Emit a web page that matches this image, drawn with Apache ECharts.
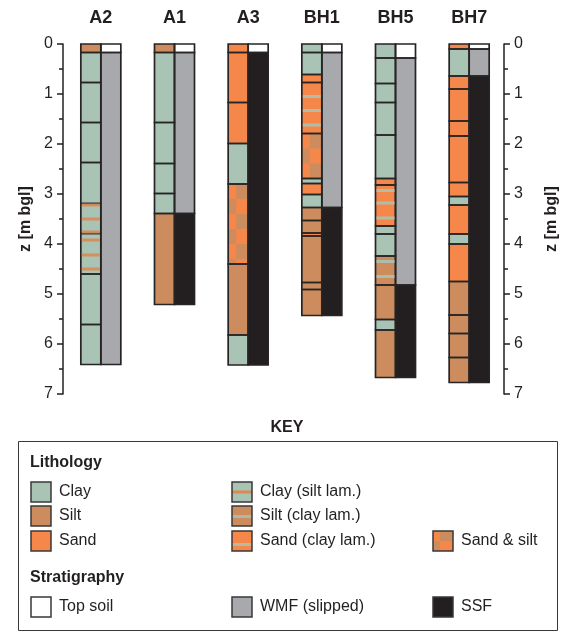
<!DOCTYPE html>
<html>
<head>
<meta charset="utf-8">
<script src="https://cdn.jsdelivr.net/npm/echarts@6/dist/echarts.min.js"></script>
<style>
  html, body { margin: 0; padding: 0; background: #ffffff; }
  #chart { width: 568px; height: 632px; }
</style>
</head>
<body>
<div id="chart"></div>
<script>
// Borehole names, left to right
const boreholes = ['A2', 'A1', 'A3', 'BH1', 'BH5', 'BH7'];
const depthTicks = [0, 1, 2, 3, 4, 5, 6, 7];

// Lithology logs: [top (m), bottom (m), unit]
const lithA2 = [[0, 0.17, 'silt'], [0.17, 0.77, 'clay'], [0.77, 1.57, 'clay'], [1.57, 2.37, 'clay'], [2.37, 3.19, 'clay'],
  [3.19, 3.79, 'clayLam'], [3.79, 4.6, 'clayLam'], [4.6, 5.61, 'clay'], [5.61, 6.41, 'clay']];
const lithA1 = [[0, 0.17, 'silt'], [0.17, 1.57, 'clay'], [1.57, 2.39, 'clay'], [2.39, 2.99, 'clay'], [2.99, 3.39, 'clay'],
  [3.39, 5.21, 'silt']];
const lithA3 = [[0, 0.17, 'sand'], [0.17, 1.17, 'sand'], [1.17, 1.99, 'sand'], [1.99, 2.8, 'clay'], [2.8, 4.4, 'sandSilt'],
  [4.4, 5.82, 'silt'], [5.82, 6.42, 'clay']];
const lithBH1 = [[0, 0.17, 'clay'], [0.17, 0.61, 'clay'], [0.61, 0.77, 'sand'], [0.77, 1.79, 'sandLam'], [1.79, 2.69, 'sandSilt'],
  [2.69, 2.79, 'clay'], [2.79, 3.01, 'sand'], [3.01, 3.27, 'clay'], [3.27, 3.53, 'silt'], [3.53, 3.78, 'silt'],
  [3.78, 3.84, 'sand'], [3.84, 4.77, 'silt'], [4.77, 4.91, 'silt'], [4.91, 5.43, 'silt']];
const lithBH5 = [[0, 0.28, 'clay'], [0.28, 0.79, 'clay'], [0.79, 1.17, 'clay'], [1.17, 1.82, 'clay'], [1.82, 2.69, 'clay'],
  [2.69, 2.82, 'sand'], [2.82, 3.64, 'sandLam'], [3.64, 3.8, 'clay'], [3.8, 4.24, 'clay'], [4.24, 4.82, 'siltLam'],
  [4.82, 5.51, 'silt'], [5.51, 5.72, 'clay'], [5.72, 6.67, 'silt']];
const lithBH7 = [[0, 0.1, 'sand'], [0.1, 0.64, 'clay'], [0.64, 0.9, 'sand'], [0.9, 1.54, 'sand'], [1.54, 1.84, 'sand'],
  [1.84, 2.77, 'sand'], [2.77, 3.05, 'sand'], [3.05, 3.22, 'clay'], [3.22, 3.8, 'sand'], [3.8, 4.0, 'clay'],
  [4.0, 4.75, 'sand'], [4.75, 5.42, 'silt'], [5.42, 5.79, 'silt'], [5.79, 6.27, 'silt'], [6.27, 6.77, 'silt']];

// Stratigraphy logs: [top (m), bottom (m), unit]
const stratA2 = [[0, 0.17, 'top'], [0.17, 6.41, 'wmf']];
const stratA1 = [[0, 0.17, 'top'], [0.17, 3.39, 'wmf'], [3.39, 5.21, 'ssf']];
const stratA3 = [[0, 0.17, 'top'], [0.17, 6.42, 'ssf']];
const stratBH1 = [[0, 0.17, 'top'], [0.17, 3.27, 'wmf'], [3.27, 5.43, 'ssf']];
const stratBH5 = [[0, 0.28, 'top'], [0.28, 4.82, 'wmf'], [4.82, 6.67, 'ssf']];
const stratBH7 = [[0, 0.1, 'top'], [0.1, 0.64, 'wmf'], [0.64, 6.77, 'ssf']];

// Depths of thin laminations inside laminated units (m)
const lamA2 = [3.22, 3.5, 3.76, 3.92, 4.22, 4.5];
const lamBH1 = [1.05, 1.33, 1.62];
const lamBH5 = [2.93, 3.18, 3.48, 4.35, 4.65];

const lithLogs = [lithA2, lithA1, lithA3, lithBH1, lithBH5, lithBH7];
const stratLogs = [stratA2, stratA1, stratA3, stratBH1, stratBH5, stratBH7];
const lamLogs = [lamA2, [], [], lamBH1, lamBH5, []];

const FONT = 'Liberation Sans, Arial, Helvetica, sans-serif';
const INK = '#231f20';
const COLORS = {
  clay: '#a9c3b4', silt: '#cd8c5e', sand: '#f6874a',
  top: '#ffffff', wmf: '#a8a9ad', ssf: '#231f20'
};
const UNITS = ['clay', 'silt', 'sand', 'clayLam', 'siltLam', 'sandLam', 'sandSilt', 'top', 'wmf', 'ssf'];
// Base fill and lamination colour of each unit
const BASE = { clay: 'clay', silt: 'silt', sand: 'sand', clayLam: 'clay', siltLam: 'silt', sandLam: 'sand',
  sandSilt: 'sand', top: 'top', wmf: 'wmf', ssf: 'ssf' };
const LAM = { clayLam: '#da8a52', siltLam: '#a9c3b4', sandLam: '#a9c3b4' };
const COL_W = 20;
const CHECK_ROW = 0.3; // m, row height of the sand & silt mottling

// Flatten logs into custom-series rows: [borehole index, top, bottom, unit index, column side]
const layerData = [];
lithLogs.forEach((log, i) => log.forEach(l => layerData.push([i, l[0], l[1], UNITS.indexOf(l[2]), 0])));
stratLogs.forEach((log, i) => log.forEach(l => layerData.push([i, l[0], l[1], UNITS.indexOf(l[2]), 1])));

// Lamination rows: [borehole index, depth, host unit index]
const lamData = [];
lamLogs.forEach((lams, i) => lams.forEach(d => {
  const host = lithLogs[i].find(l => d >= l[0] && d <= l[1]);
  lamData.push([i, d, UNITS.indexOf(host[2])]);
}));

function checkerCells(x, y, w, h, rowPx) {
  // brown cells of the sand & silt mottling, alternating between a narrow and a wide strip
  const cells = [];
  const split = Math.round(w * 0.38);
  let k = 0;
  for (let yy = y; yy < y + h - 0.5; yy += rowPx, k++) {
    const hh = Math.min(rowPx, y + h - yy);
    const cx = k % 2 === 0 ? x + split : x;
    const cw = k % 2 === 0 ? w - split : split;
    cells.push({ type: 'rect', shape: { x: cx, y: yy, width: cw, height: hh }, style: { fill: COLORS.silt } });
  }
  return cells;
}

function renderLayer(params, api) {
  const i = api.value(0);
  const unit = UNITS[api.value(3)];
  const side = api.value(4);
  const p0 = api.coord([i, api.value(1)]);
  const p1 = api.coord([i, api.value(2)]);
  const x = side === 0 ? p0[0] - COL_W : p0[0];
  const y = p0[1];
  const h = p1[1] - p0[1];
  const children = [{ type: 'rect', shape: { x, y, width: COL_W, height: h }, style: { fill: COLORS[BASE[unit]] } }];
  if (unit === 'sandSilt') {
    const rowPx = api.coord([i, CHECK_ROW])[1] - api.coord([i, 0])[1];
    checkerCells(x, y, COL_W, h, rowPx).forEach(c => children.push(c));
  }
  children.push({ type: 'rect', shape: { x, y, width: COL_W, height: h },
    style: { fill: null, stroke: '#262424', lineWidth: 1.7 }, z2: 5 });
  return { type: 'group', children };
}

function renderLam(params, api) {
  const i = api.value(0);
  const unit = UNITS[api.value(2)];
  const p = api.coord([i, api.value(1)]);
  return {
    type: 'rect',
    shape: { x: p[0] - COL_W + 1, y: p[1] - 1.5, width: COL_W - 2, height: 3 },
    style: { fill: LAM[unit], opacity: 0.9 }
  };
}

// ---- Key (legend) graphics ----
function iconRect(x, y, unit) {
  const s = 20;
  const els = [{ type: 'rect', shape: { x, y, width: s, height: s }, style: { fill: COLORS[BASE[unit]] } }];
  if (unit === 'clayLam') els.push({ type: 'rect', shape: { x, y: y + 8.5, width: s, height: 3 }, style: { fill: LAM.clayLam } });
  if (unit === 'siltLam') els.push({ type: 'rect', shape: { x, y: y + 9, width: s, height: 3 }, style: { fill: LAM.siltLam, opacity: 0.8 } });
  if (unit === 'sandLam') els.push({ type: 'rect', shape: { x, y: y + 12, width: s, height: 3 }, style: { fill: LAM.sandLam, opacity: 0.85 } });
  if (unit === 'sandSilt') {
    els.push({ type: 'rect', shape: { x: x + 7, y, width: 13, height: 10 }, style: { fill: COLORS.silt } });
    els.push({ type: 'rect', shape: { x, y: y + 10, width: 7, height: 10 }, style: { fill: COLORS.silt } });
  }
  els.push({ type: 'rect', shape: { x, y, width: s, height: s }, style: { fill: null, stroke: '#3a3838', lineWidth: 1.5 } });
  return els;
}
function keyText(x, y, text, bold) {
  return { type: 'text', x, y, style: { text, fill: INK, font: (bold ? 'bold ' : '') + '16px ' + FONT, verticalAlign: 'middle' } };
}
const keyItems = [
  [31, 492, 'clay', 'Clay'], [31, 516, 'silt', 'Silt'], [31, 541, 'sand', 'Sand'],
  [232, 492, 'clayLam', 'Clay (silt lam.)'], [232, 516, 'siltLam', 'Silt (clay lam.)'], [232, 541, 'sandLam', 'Sand (clay lam.)'],
  [433, 541, 'sandSilt', 'Sand & silt'],
  [31, 607, 'top', 'Top soil'], [232, 607, 'wmf', 'WMF (slipped)'], [433, 607, 'ssf', 'SSF']
];
const keyGraphics = [
  { type: 'text', x: 287, y: 428, style: { text: 'KEY', fill: INK, font: 'bold 16px ' + FONT, align: 'center', verticalAlign: 'middle' } },
  { type: 'rect', shape: { x: 18.5, y: 441.5, width: 539, height: 189 }, style: { fill: null, stroke: '#3a3838', lineWidth: 1 } },
  keyText(30, 463, 'Lithology', true),
  keyText(30, 578, 'Stratigraphy', true)
];
keyItems.forEach(([x, y, unit, label]) => {
  iconRect(x, y - 10, unit).forEach(e => keyGraphics.push(e));
  keyGraphics.push(keyText(x + 28, y, label, false));
});

const depthAxis = (position, offset, gap) => ({
  type: 'value', position, offset, min: 0, max: 7, interval: 1, inverse: true,
  name: 'z [m bgl]', nameLocation: 'middle', nameGap: gap, nameRotate: 90,
  nameTextStyle: { fontWeight: 'bold', fontSize: 16, color: INK, fontFamily: FONT },
  axisLine: { show: true, lineStyle: { color: INK, width: 1.5 } },
  axisTick: { show: true, length: 6, lineStyle: { color: INK, width: 1.5 } },
  minorTick: { show: true, splitNumber: 2, length: 4, lineStyle: { color: INK, width: 1.5 } },
  axisLabel: { fontSize: 16, color: INK, fontFamily: FONT, margin: 10,
    formatter: v => depthTicks.includes(v) ? String(v) : '' },
  splitLine: { show: false }
});

const chart = echarts.init(document.getElementById('chart'), null, { renderer: 'canvas' });
chart.setOption({
  animation: false,
  backgroundColor: '#ffffff',
  grid: { left: 64, right: 51, top: 44, bottom: 238 },
  xAxis: {
    type: 'category', data: boreholes, position: 'top',
    axisLine: { show: false }, axisTick: { show: false }, splitLine: { show: false },
    axisLabel: { fontWeight: 'bold', fontSize: 18, color: INK, fontFamily: FONT, margin: 17 }
  },
  yAxis: [depthAxis('left', 1, 29), depthAxis('right', -2, 40)],
  series: [
    { type: 'custom', name: 'layers', renderItem: renderLayer, data: layerData, clip: false, z: 2,
      encode: { x: 0, y: [1, 2] } },
    { type: 'custom', name: 'laminations', renderItem: renderLam, data: lamData, clip: false, z: 3,
      encode: { x: 0, y: 1 } }
  ],
  graphic: keyGraphics
});
</script>
</body>
</html>
